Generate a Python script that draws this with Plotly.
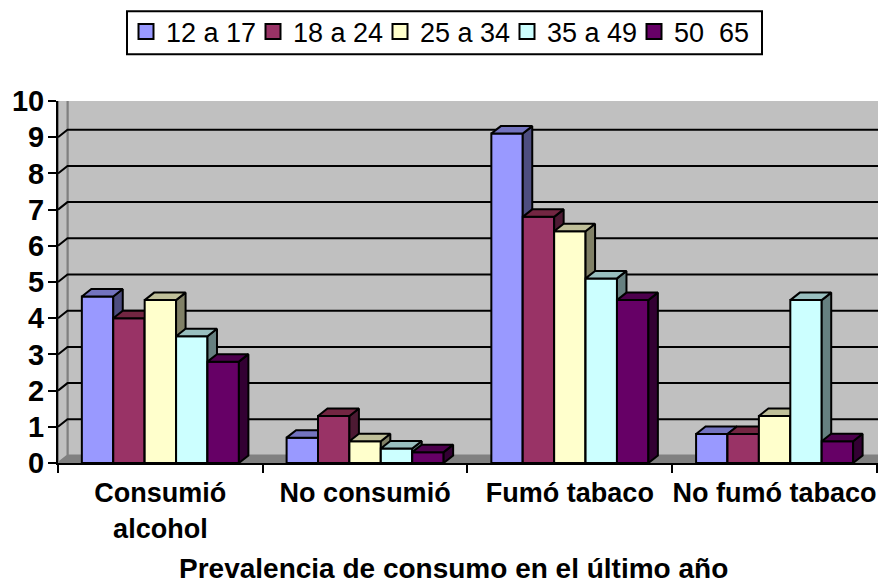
import plotly.graph_objects as go

categories = ["Consumió<br>alcohol", "No consumió", "Fumó tabaco", "No fumó tabaco"]
series_names = ["12 a 17", "18 a 24", "25 a 34", "35 a 49", "50  65"]
values_12_17 = [4.6, 0.7, 9.1, 0.8]
values_18_24 = [4.0, 1.3, 6.8, 0.8]
values_25_34 = [4.5, 0.6, 6.4, 1.3]
values_35_49 = [3.5, 0.4, 5.1, 4.5]
values_50_65 = [2.8, 0.3, 4.5, 0.6]
series_values = [values_12_17, values_18_24, values_25_34, values_35_49, values_50_65]
y_ticks = list(range(0, 11))
axis_title = "Prevalencia de consumo en el último año"

front = ["#9999FF", "#993366", "#FFFFCC", "#CCFFFF", "#660066"]
side = ["#4D4D80", "#4D1A33", "#808066", "#668080", "#330033"]
top = ["#7373BF", "#732642", "#BFBF99", "#99BFBF", "#4D004D"]

FONT = "Liberation Sans"
W, H = 878, 579
ML, MT, MB = 58, 100.7, 116
PW, PH = W - ML, H - MT - MB
XMAX = 4.005
YMAX = 10
DX = 9.5 * XMAX / PW      # depth in x units
DY = 7.5 * YMAX / PH      # depth in y units
BW = 0.1534               # bar width
XR = [0, XMAX]
YR = [0, YMAX]
XWALL = 4 + DX


def px_x(p):
    return (p - ML) / PW


def px_y(p):
    return 1 - (p - MT) / PH


def poly(xs, ys, fill, line, lw, xa="x", ya="y"):
    return go.Scatter(x=xs, y=ys, mode="lines", fill="toself", fillcolor=fill,
                      line=dict(color=line, width=lw), hoverinfo="skip",
                      showlegend=False, cliponaxis=False, xaxis=xa, yaxis=ya)


def seg(xs, ys, color, lw):
    return go.Scatter(x=xs, y=ys, mode="lines", line=dict(color=color, width=lw),
                      hoverinfo="skip", showlegend=False, cliponaxis=False)


fig = go.Figure()

# walls
fig.add_trace(poly([DX, XWALL, XWALL, DX, DX], [DY, DY, YMAX + DY, YMAX + DY, DY], "#C0C0C0", "#808080", 2))
fig.add_trace(poly([0, DX, DX, 0, 0], [0, DY, YMAX + DY, YMAX, 0], "#C0C0C0", "#808080", 2))
fig.add_trace(poly([0, 4, XWALL, DX, 0], [0, 0, DY, DY, 0], "#808080", "#808080", 1))
# gridlines on back wall and their returns on the side wall
for t in y_ticks[1:-1]:
    fig.add_trace(seg([0, DX, XWALL], [t, t + DY, t + DY], "#000000", 2))

# legend entries (square swatches)
for i, name in enumerate(series_names):
    fig.add_trace(go.Scatter(x=[None], y=[None], mode="markers", name=name,
                             marker=dict(symbol="square", size=15, color=front[i],
                                         line=dict(color="#000000", width=2)),
                             hoverinfo="skip", showlegend=True))

# bars: one overlaid subplot per series so later series cover earlier side faces
for i, name in enumerate(series_names):
    n = i + 2
    xa, ya = f"x{n}", f"y{n}"
    vals = series_values[i]
    off = (i - 2.5) * BW
    fig.add_trace(go.Bar(x=[k + 0.5 for k in range(4)], y=vals, name=name, width=BW, offset=off,
                         marker=dict(color=front[i], line=dict(color="#000000", width=2)),
                         cliponaxis=False, xaxis=xa, yaxis=ya, hoverinfo="x+y+name", showlegend=False))
    for k, v in enumerate(vals):
        x0 = k + 0.5 + off
        x1 = x0 + BW
        fig.add_trace(poly([x1, x1 + DX, x1 + DX, x1, x1], [0, DY, v + DY, v, 0], side[i], "#000000", 2, xa, ya))
        fig.add_trace(poly([x0, x1, x1 + DX, x0 + DX, x0], [v, v, v + DY, v + DY, v], top[i], "#000000", 2, xa, ya))

layout = dict(
    width=W, height=H, autosize=False,
    margin=dict(l=ML, r=0, t=MT, b=MB, pad=0),
    paper_bgcolor="#FFFFFF", plot_bgcolor="rgba(0,0,0,0)",
    font=dict(family=FONT, color="#000000"),
    barmode="overlay",
    showlegend=True,
    legend=dict(orientation="h", x=px_x(126), xanchor="left", y=px_y(7), yanchor="top",
                borderwidth=0, bgcolor="rgba(0,0,0,0)",
                font=dict(family=FONT, size=27, color="#000000"),
                entrywidth=82, entrywidthmode="pixels", itemwidth=30, traceorder="normal",
                itemclick=False, itemdoubleclick=False),
    shapes=[dict(type="rect", xref="paper", yref="paper", x0=px_x(127), x1=px_x(762), y0=px_y(54), y1=px_y(11),
                 line=dict(color="#000000", width=2), fillcolor="rgba(0,0,0,0)")],
    xaxis=dict(range=XR, tickmode="array", tickvals=[k + 0.5 for k in range(4)], ticktext=categories,
               ticks="", ticklen=0, ticklabelstandoff=5, showgrid=False, zeroline=False,
               showline=True, linecolor="#000000", linewidth=2,
               tickfont=dict(family=FONT, size=27, color="#000000", weight="bold"),
               minor=dict(tickmode="array", tickvals=[0, 1, 2, 3, 4], ticks="outside", ticklen=8,
                          tickwidth=2, tickcolor="#000000", showgrid=False)),
    yaxis=dict(range=YR, tickmode="array", tickvals=y_ticks, ticks="outside", ticklen=8, tickwidth=2,
               tickcolor="#000000", showgrid=False, zeroline=False, showline=True,
               linecolor="#000000", linewidth=2, ticklabelstandoff=-2,
               tickfont=dict(family=FONT, size=29, color="#000000", weight="bold")),
    annotations=[dict(text=axis_title, xref="paper", yref="paper", x=px_x(453.5), y=px_y(569),
                      xanchor="center", yanchor="middle", showarrow=False,
                      font=dict(family=FONT, size=28, color="#000000", weight="bold"))],
)
for i in range(len(series_names)):
    n = i + 2
    layout[f"xaxis{n}"] = dict(range=XR, overlaying="x", anchor=f"y{n}", visible=False)
    layout[f"yaxis{n}"] = dict(range=YR, overlaying="y", anchor=f"x{n}", visible=False)
fig.update_layout(**layout)
fig.write_html("out.html", default_width=f"{W}px", default_height=f"{H}px",
               config={"displayModeBar": False},
               post_script="document.body.style.margin='0';document.body.style.overflow='hidden';")
